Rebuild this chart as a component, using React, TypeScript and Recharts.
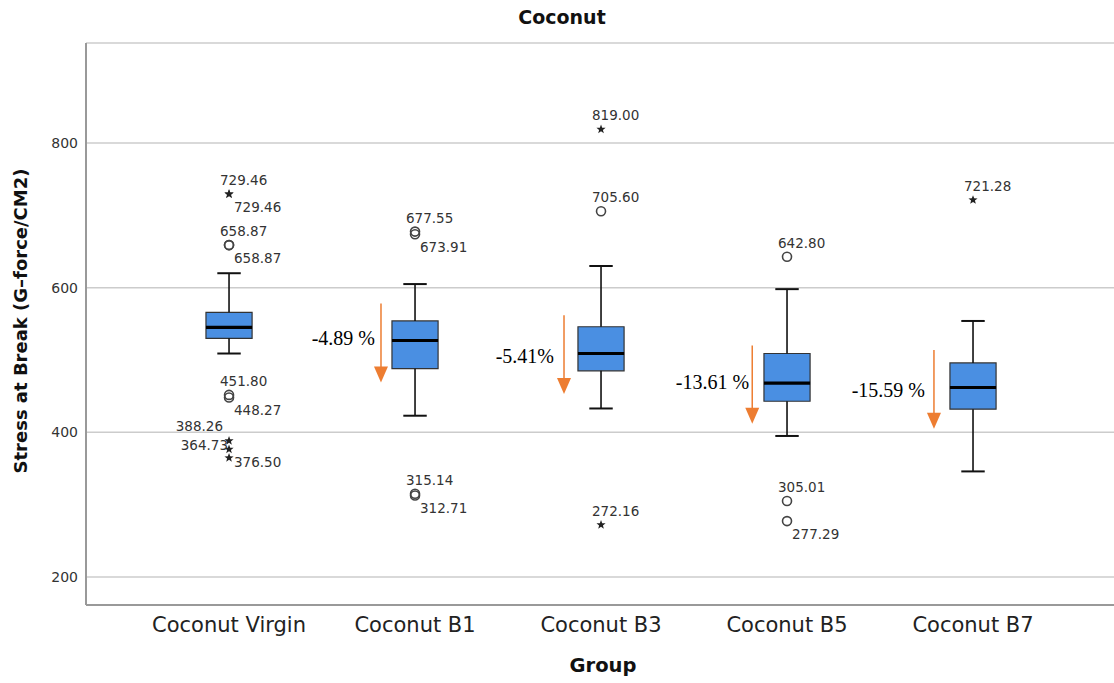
import React from 'react';
import {
  ComposedChart,
  XAxis,
  YAxis,
  CartesianGrid,
  ReferenceArea,
  ReferenceLine,
  ReferenceDot,
  Scatter,
} from 'recharts';

// ---------- data ----------
const categories = ['Coconut Virgin', 'Coconut B1', 'Coconut B3', 'Coconut B5', 'Coconut B7'];
const whiskerLow = [509, 423, 433, 395, 346];
const quartile1 = [530, 488, 485, 443, 432];
const medians = [545, 527, 509, 468, 462];
const quartile3 = [566, 554, 546, 509, 496];
const whiskerHigh = [620, 605, 630, 598, 554];

const outlierGroup = [0, 0, 0, 0, 0, 0, 0, 0, 0, 1, 1, 1, 1, 2, 2, 2, 3, 3, 3, 4];
const outlierValue = [
  729.46, 729.46, 658.87, 658.87, 451.8, 448.27, 388.26, 376.5, 364.73,
  677.55, 673.91, 315.14, 312.71,
  819.0, 705.6, 272.16,
  642.8, 305.01, 277.29,
  721.28,
];
const outlierExtreme = [
  true, true, false, false, false, false, true, true, true,
  false, false, false, false,
  true, false, true,
  false, false, false,
  true,
];

const yTicks = [200, 400, 600, 800];

const changeLabels = ['-4.89 %', '-5.41%', '-13.61 %', '-15.59 %'];
const changeGroup = [1, 2, 3, 4];
const arrowFrom = [578, 562, 520, 514];
const arrowTo = [469, 453, 412, 405];
const changeLabelValue = [531, 505, 469, 458];

// ---------- layout / styles (not data) ----------
const labelPlace = [
  'above', 'below', 'above', 'below', 'above', 'below', 'leftAbove', 'below', 'left',
  'above', 'below', 'above', 'below',
  'above', 'above', 'above',
  'above', 'above', 'below',
  'above',
];
const arrowOffset = [-0.183, -0.199, -0.187, -0.21];
const changeLabelOffset = [-0.215, -0.253, -0.204, -0.258];
const BOX_HALF = 0.124;
const CAP_HALF = 0.063;
const BOX_FILL = '#4a8fe2';
const ORANGE = '#ed7d31';
const SANS = '"DejaVu Sans", Verdana, sans-serif';
const SERIF = '"Liberation Serif", "Times New Roman", serif';

const W = 1114;
const H = 683;

const outlierData = outlierValue.map((v, i) => ({
  x: outlierGroup[i],
  y: v,
  extreme: outlierExtreme[i],
  label: v.toFixed(2),
  place: labelPlace[i],
}));

const starPoints = (cx: number, cy: number, ro: number, ri: number) => {
  const pts: string[] = [];
  for (let k = 0; k < 10; k++) {
    const r = k % 2 === 0 ? ro : ri;
    const a = -Math.PI / 2 + (k * Math.PI) / 5;
    pts.push(`${cx + r * Math.cos(a)},${cy + r * Math.sin(a)}`);
  }
  return pts.join(' ');
};

const OutlierShape = (props: any) => {
  const { cx, cy, payload } = props;
  if (cx == null || cy == null) return null;
  let tx = cx - 9;
  let ty = cy - 14;
  let anchor: 'start' | 'end' = 'start';
  if (payload.place === 'below') {
    tx = cx + 5;
    ty = cy + 13;
  } else if (payload.place === 'leftAbove') {
    tx = cx - 6;
    ty = cy - 15;
    anchor = 'end';
  } else if (payload.place === 'left') {
    tx = cx - 1;
    ty = cy - 13;
    anchor = 'end';
  }
  return (
    <g>
      {payload.extreme ? (
        <polygon points={starPoints(cx, cy, 4.8, 2)} fill="#222" />
      ) : (
        <circle cx={cx} cy={cy} r={4.5} fill="none" stroke="#444" strokeWidth={1.6} />
      )}
      <text
        x={tx}
        y={ty}
        textAnchor={anchor}
        dominantBaseline="central"
        fontFamily={SANS}
        fontSize={13.5}
        fill="#333"
      >
        {payload.label}
      </text>
    </g>
  );
};

const ArrowHead = (props: any) => {
  const { cx, cy } = props;
  if (cx == null || cy == null) return null;
  return <polygon points={`${cx - 7},${cy - 16} ${cx + 7},${cy - 16} ${cx},${cy}`} fill={ORANGE} />;
};

const makeTextShape = (text: string) => (props: any) => {
  const { cx, cy } = props;
  if (cx == null || cy == null) return null;
  return (
    <text
      x={cx}
      y={cy}
      textAnchor="end"
      dominantBaseline="central"
      fontFamily={SERIF}
      fontSize={20}
      fill="#000"
    >
      {text}
    </text>
  );
};

export default function App() {
  return (
    <div style={{ position: 'absolute', left: 0, top: 0, width: W, height: H, background: '#fff' }}>
      <ComposedChart width={W} height={H} margin={{ top: 43, right: 0, bottom: 0, left: 0 }}>
        <CartesianGrid vertical={false} stroke="#cccccc" strokeWidth={1.5} />
        <XAxis
          type="number"
          dataKey="x"
          domain={[-0.769, 4.758]}
          ticks={[0, 1, 2, 3, 4]}
          tickFormatter={(v: number) => categories[v] ?? ''}
          allowDataOverflow
          height={78}
          tickLine={false}
          tickMargin={6}
          axisLine={{ stroke: '#999', strokeWidth: 2 }}
          tick={{ fill: '#222', fontSize: 21, fontFamily: SANS }}
          interval={0}
        />
        <YAxis
          type="number"
          domain={[161.3, 938.3]}
          ticks={yTicks}
          allowDataOverflow
          width={86}
          tickLine={false}
          axisLine={{ stroke: '#999', strokeWidth: 2 }}
          tick={{ fill: '#333', fontSize: 14, fontFamily: SANS }}
        />

        {/* whiskers */}
        {categories.map((_, i) => (
          <ReferenceLine
            key={`wh-${i}`}
            segment={[{ x: i, y: quartile3[i] }, { x: i, y: whiskerHigh[i] }]}
            stroke="#111"
            strokeWidth={1.6}
          />
        ))}
        {categories.map((_, i) => (
          <ReferenceLine
            key={`wl-${i}`}
            segment={[{ x: i, y: quartile1[i] }, { x: i, y: whiskerLow[i] }]}
            stroke="#111"
            strokeWidth={1.6}
          />
        ))}
        {categories.map((_, i) => (
          <ReferenceLine
            key={`ch-${i}`}
            segment={[{ x: i - CAP_HALF, y: whiskerHigh[i] }, { x: i + CAP_HALF, y: whiskerHigh[i] }]}
            stroke="#111"
            strokeWidth={2}
          />
        ))}
        {categories.map((_, i) => (
          <ReferenceLine
            key={`cl-${i}`}
            segment={[{ x: i - CAP_HALF, y: whiskerLow[i] }, { x: i + CAP_HALF, y: whiskerLow[i] }]}
            stroke="#111"
            strokeWidth={2}
          />
        ))}

        {/* boxes */}
        {categories.map((_, i) => (
          <ReferenceArea
            key={`box-${i}`}
            x1={i - BOX_HALF}
            x2={i + BOX_HALF}
            y1={quartile1[i]}
            y2={quartile3[i]}
            fill={BOX_FILL}
            fillOpacity={1}
            stroke="#333"
            strokeWidth={1.2}
          />
        ))}

        {/* medians */}
        {categories.map((_, i) => (
          <ReferenceLine
            key={`med-${i}`}
            segment={[{ x: i - BOX_HALF, y: medians[i] }, { x: i + BOX_HALF, y: medians[i] }]}
            stroke="#000"
            strokeWidth={3.2}
          />
        ))}

        {/* change arrows */}
        {changeGroup.map((g, i) => (
          <ReferenceLine
            key={`ar-${i}`}
            segment={[
              { x: g + arrowOffset[i], y: arrowFrom[i] },
              { x: g + arrowOffset[i], y: arrowTo[i] + 10 },
            ]}
            stroke={ORANGE}
            strokeWidth={1.5}
          />
        ))}
        {changeGroup.map((g, i) => (
          <ReferenceDot
            key={`ah-${i}`}
            x={g + arrowOffset[i]}
            y={arrowTo[i]}
            r={0}
            shape={<ArrowHead />}
          />
        ))}
        {changeGroup.map((g, i) => (
          <ReferenceDot
            key={`al-${i}`}
            x={g + changeLabelOffset[i]}
            y={changeLabelValue[i]}
            r={0}
            shape={makeTextShape(changeLabels[i])}
          />
        ))}

        <Scatter
          data={outlierData}
          dataKey="y"
          isAnimationActive={false}
          shape={<OutlierShape />}
        />
      </ComposedChart>

      <svg
        width={W}
        height={H}
        style={{ position: 'absolute', left: 0, top: 0, pointerEvents: 'none' }}
      >
        <text
          x={562}
          y={17}
          textAnchor="middle"
          dominantBaseline="central"
          fontFamily={SANS}
          fontWeight="bold"
          fontSize={19}
          fill="#111"
        >
          Coconut
        </text>
        <text
          x={20}
          y={321}
          textAnchor="middle"
          dominantBaseline="central"
          fontFamily={SANS}
          fontWeight="bold"
          fontSize={18}
          fill="#111"
          transform="rotate(-90 20 321)"
        >
          Stress at Break (G–force/CM2)
        </text>
        <text
          x={603}
          y={665}
          textAnchor="middle"
          dominantBaseline="central"
          fontFamily={SANS}
          fontWeight="bold"
          fontSize={19.5}
          fill="#111"
        >
          Group
        </text>
      </svg>
    </div>
  );
}
